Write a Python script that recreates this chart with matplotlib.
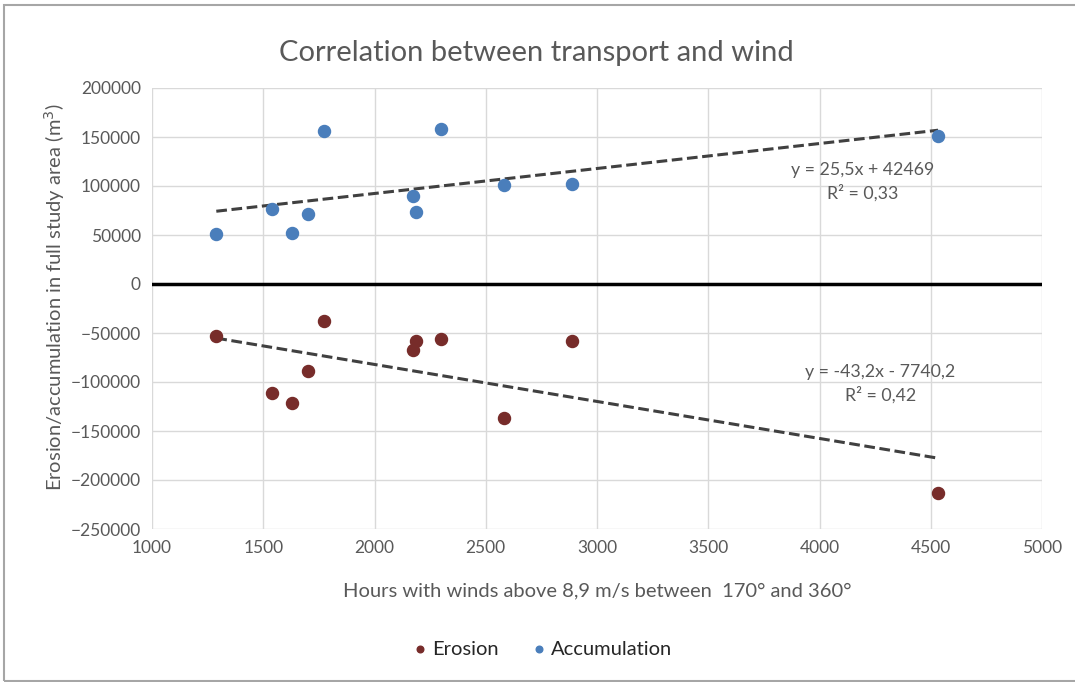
import numpy as np
import matplotlib.pyplot as plt
import matplotlib.patches as mpatches

plt.rcParams['font.family'] = ['Lato', 'DejaVu Sans']

# Data
hours = [1289, 1541, 1631, 1700, 1775, 2171, 2186, 2299, 2583, 2887, 4533]
accumulation = [50700, 76500, 52300, 71400, 156100, 90100, 73200, 157900, 100700, 102300, 151000]
erosion = [-52700, -111500, -121700, -88800, -37400, -67000, -57800, -56100, -137000, -57900, -213000]

acc_label = 'y = 25,5x + 42469\nR² = 0,33'
ero_label = 'y = -43,2x - 7740,2\nR² = 0,42'

xticks = np.arange(1000, 5001, 500)
yticks = np.arange(-250000, 200001, 50000)

TXT = '#595959'
C_ERO = '#772C2A'
C_ACC = '#4A7EBB'

fig = plt.figure(figsize=(10.75, 6.82), dpi=100)
ax = fig.add_axes([152 / 1075, 1 - 529 / 682, (1042 - 152) / 1075, (529 - 88) / 682])

# outer chart border
fig.patches.append(mpatches.Rectangle((4 / 1075, 1 / 682), 1.0, 676 / 682, transform=fig.transFigure,
                                      fill=False, edgecolor='#a6a6a6', linewidth=1.5))

ax.set_xlim(1000, 5000)
ax.set_ylim(-250000, 200000)
ax.set_xticks(xticks)
ax.set_yticks(yticks)
ax.grid(color='#d9d9d9', linewidth=1)
ax.set_axisbelow(True)
for s in ax.spines.values():
    s.set_visible(False)
ax.tick_params(length=0, labelsize=12.5, labelcolor=TXT, pad=8)
ax.axhline(0, color='black', linewidth=2.5, zorder=1)

# trendlines
x = np.array(hours)
for ys in (accumulation, erosion):
    k, b = np.polyfit(x, np.array(ys), 1)
    xs = np.array([x.min(), x.max()])
    ax.plot(xs, k * xs + b, linestyle=(0, (3.5, 1.5)), color='#404040', linewidth=2.2, zorder=2)

ax.scatter(hours, erosion, s=75, color=C_ERO, zorder=3, label='Erosion')
ax.scatter(hours, accumulation, s=75, color=C_ACC, zorder=3, label='Accumulation')

ax.text(4192, 104000, acc_label, ha='center', va='center', fontsize=12.8, color=TXT, linespacing=1.45)
ax.text(4273, -102000, ero_label, ha='center', va='center', fontsize=12.8, color=TXT, linespacing=1.45)

fig.text(536 / 1075, 1 - 53 / 682, 'Correlation between transport and wind', ha='center', va='center',
         fontsize=21, color=TXT)
fig.text(597 / 1075, 1 - 591 / 682, 'Hours with winds above 8,9 m/s between  170° and 360°', ha='center',
         va='center', fontsize=14.5, color=TXT)
fig.text(55 / 1075, 1 - 297 / 682, 'Erosion/accumulation in full study area (m$^3$)', ha='center',
         va='center', rotation=90, fontsize=14.5, color=TXT)

fig.legend(loc='center', bbox_to_anchor=(542 / 1075, 1 - 649 / 682), ncol=2, frameon=False,
           fontsize=14.5, handlelength=0.8, handletextpad=0.2, columnspacing=1.6, markerscale=0.55,
           labelcolor='#262626')

fig.savefig('out.png', dpi=100)
